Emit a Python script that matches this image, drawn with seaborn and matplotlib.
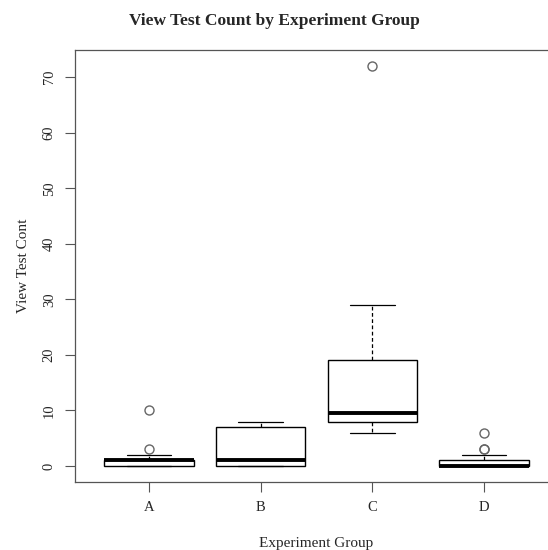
import numpy as np
import pandas as pd
import matplotlib
matplotlib.use("Agg")
import matplotlib.pyplot as plt
import seaborn as sns

# View-test counts per participant, by experiment group
group_a = [0, 0, 0, 0, 0, 1, 1, 1, 1, 1, 1, 2, 3, 10]
group_b = [0, 0, 0, 0, 1, 1, 2, 7, 7, 8, 8]
group_c = [6, 7, 8, 8, 9, 10, 19, 19, 29, 72]
group_d = [0, 0, 0, 0, 0, 0, 0, 0, 0, 0, 1, 1, 1, 1, 2, 3, 3, 6]
groups = ["A", "B", "C", "D"]
y_ticks = [0, 10, 20, 30, 40, 50, 60, 70]

df = pd.DataFrame({
    "group": sum([[g] * len(v) for g, v in zip(groups, [group_a, group_b, group_c, group_d])], []),
    "count": group_a + group_b + group_c + group_d,
})

sns.set_style("white")
plt.rcParams["font.family"] = ["Liberation Serif", "DejaVu Serif"]

fig = plt.figure(figsize=(5.48, 5.5), dpi=100)
ax = fig.add_axes([0.1374, 0.1236, 0.8803, 0.7855])

sns.boxplot(
    data=df, x="group", y="count", order=groups, ax=ax,
    width=0.8, color="white", linecolor="black", linewidth=1.0,
    whis=1.5, saturation=1,
    whiskerprops=dict(linestyle=(0, (3, 2)), linewidth=0.9),
    medianprops=dict(linewidth=2.8, color="black"),
    capprops=dict(linewidth=0.9),
    flierprops=dict(marker="o", markersize=6.5, markerfacecolor="none",
                    markeredgecolor="#666666", markeredgewidth=1.0),
)

ax.set_xlim(-0.66, 3.66)
ax.set_ylim(-2.88, 74.88)
ax.set_yticks(y_ticks)
ax.set_yticklabels([str(t) for t in y_ticks], rotation=90, va="center", fontsize=10.5)
ax.set_xticks(range(len(groups)))
ax.set_xticklabels(groups, fontsize=10.5)
ax.tick_params(axis="both", direction="out", length=7, width=0.8, color="#555555",
               pad=7, left=True, bottom=True)
for s in ax.spines.values():
    s.set_color("#555555")
    s.set_linewidth(0.9)

ax.set_xlabel("Experiment Group", fontsize=11, labelpad=16)
ax.set_ylabel("View Test Cont", fontsize=11, labelpad=9)
fig.suptitle("View Test Count by Experiment Group", fontsize=12.5, fontweight="bold", y=0.977)

fig.savefig("out.png", dpi=100)
